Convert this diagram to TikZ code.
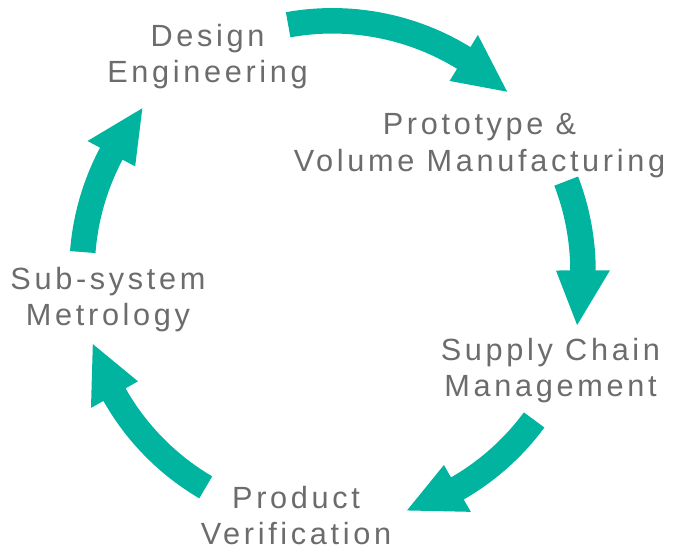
\documentclass[tikz,border=0pt]{standalone}
\usepackage{fontspec}
\newfontfamily\lblfont[LetterSpace=12]{Liberation Sans}
\definecolor{cyclegreen}{RGB}{0,180,160}
\definecolor{lblgray}{RGB}{108,108,108}

% Clockwise block arrow on the ring: #1 = tail angle, #2 = tip angle
\newcommand{\cyclearrow}[2]{%
  \pgfmathsetmacro{\headbase}{#2+12.6}%
  \fill[cyclegreen]
    (#1:263.25) arc[start angle=#1, end angle=\headbase, radius=263.25]
    -- (\headbase:277.5) -- (#2:250.5) -- (\headbase:223.5)
    -- (\headbase:237.75) arc[start angle=\headbase, end angle=#1, radius=237.75]
    -- cycle;}

\begin{document}
\begin{tikzpicture}[x=0.75pt,y=0.75pt,
  lbl/.style={font=\lblfont\fontsize{23}{27.5}\selectfont, text=lblgray,
    align=center, inner sep=0pt, anchor=base}]
\useasboundingbox (0,0) rectangle (687,552);

% labels (anchored at the baseline of their last line)
\node[lbl] (design)  at (207.5,469)  {Design\\Engineering};
\node[lbl] (proto)   at (479.5,380.5){Prototype \&\\Volume Manufacturing};
\node[lbl] (supply)  at (550.5,155)  {Supply Chain\\Management};
\node[lbl] (product) at (296,7)      {Product\\Verification};
\node[lbl] (subsys)  at (108,226)    {Sub-system\\Metrology};

% ring of arrows
\begin{scope}[shift={(332.5,280.7)}]
  \cyclearrow{100.2}{45.8}
  \cyclearrow{21.1}{-12.4}
  \cyclearrow{-36.4}{-72.7}
  \cyclearrow{239.6}{196.9}
  \cyclearrow{175.6}{139.4}
\end{scope}
\end{tikzpicture}
\end{document}
